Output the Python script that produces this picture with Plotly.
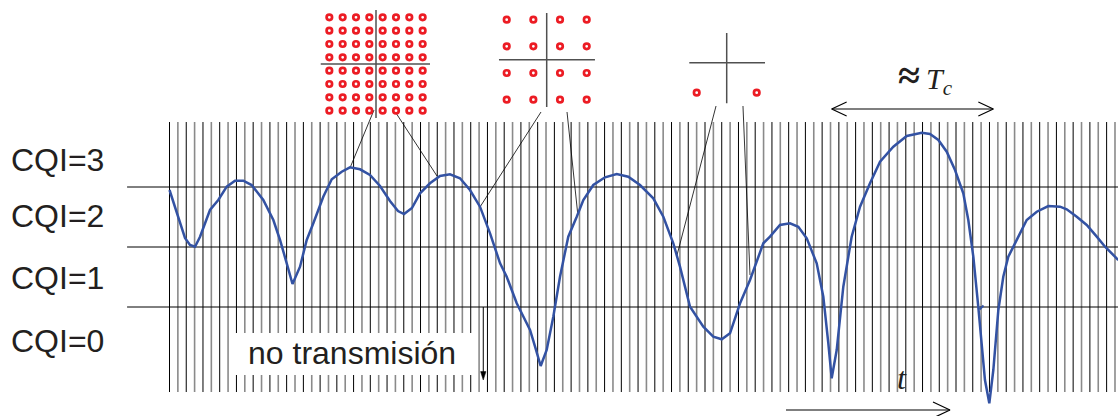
import plotly.graph_objects as go

# ---------------- data ----------------
# time axis: slot index (one vertical grid line per slot)
n_slots = 114
# channel-quality level axis: CQI thresholds at 1, 2, 3
cqi_thresholds = [1, 2, 3]
cqi_labels = ["CQI=0", "CQI=1", "CQI=2", "CQI=3"]
cqi_label_level = [0.43, 1.49, 2.52, 3.45]

curve_t = [0, 0.86, 1.85, 2.45, 3.05, 3.65, 4.84, 5.83, 6.84, 7.83,
           8.82, 9.82, 11.21, 12.41, 13.21, 14.01, 14.70, 15.60, 16.40, 17.19,
           18.38, 19.39, 20.58, 21.57, 22.77, 23.96, 25.16, 26.35, 27.31, 28.03,
           28.98, 29.94, 31.13, 32.33, 33.52, 34.72, 35.91, 37.11, 38.31, 39.51,
           40.30, 41.50, 42.69, 43.09, 43.69, 44.36, 45.08, 45.87, 46.67, 47.66,
           48.67, 49.46, 50.65, 52.05, 53.45, 54.83, 56.23, 57.82, 59.02, 60.21,
           61.01, 62.21, 63.80, 64.99, 66.00, 66.99, 68.19, 69.38, 70.97, 71.77,
           72.96, 74.16, 75.15, 76.16, 77.35, 78.14, 78.74, 79.14, 79.74, 80.53,
           81.53, 82.53, 83.72, 84.92, 86.51, 88.11, 89.90, 90.89, 91.89, 92.89,
           93.88, 94.87, 95.47, 96.07, 96.66, 97.07, 97.46, 97.98, 98.46, 99.06,
           99.65, 100.25, 101.26, 102.45, 103.65, 105.03, 106.43, 107.23, 108.43, 109.62,
           110.82, 111.81, 113.4]
curve_level = [2.95, 2.567, 2.15, 2.033, 2.005, 2.17, 2.617, 2.783, 3.005, 3.105,
               3.105, 3.033, 2.783, 2.45, 2.117, 1.728, 1.383, 1.672, 2.117, 2.395,
               2.838, 3.128, 3.255, 3.328, 3.295, 3.2, 3.017, 2.767, 2.6, 2.55,
               2.65, 2.895, 3.062, 3.183, 3.212, 3.145, 2.95, 2.672, 2.228, 1.728,
               1.505, 1.062, 0.728, 0.617, 0.338, 0.017, 0.283, 0.838, 1.505, 2.172,
               2.505, 2.783, 3.033, 3.162, 3.217, 3.172, 3.033, 2.812, 2.505, 2.062,
               1.672, 1.005, 0.672, 0.505, 0.462, 0.562, 1.062, 1.45, 2.062, 2.172,
               2.367, 2.395, 2.338, 2.145, 1.728, 1.172, 0.395, -0.188, 0.283, 1.338,
               2.172, 2.672, 3.062, 3.422, 3.672, 3.85, 3.905, 3.883, 3.783, 3.588,
               3.283, 2.895, 2.45, 1.838, 1.005, 0.338, -0.217, -0.605, -0.05, 0.95,
               1.505, 1.838, 2.117, 2.45, 2.588, 2.683, 2.672, 2.628, 2.505, 2.367,
               2.172, 2.005, 1.783]
# small stray stroke on the curve
stray_t = [96.81, 97.29]
stray_level = [0.958, 1.025]

# constellations (I/Q amplitudes)
qam64_levels = [-7, -5, -3, -1, 1, 3, 5, 7]
qam16_levels = [-3, -1, 1, 3]
qam4_i = [-1, 1]
qam4_q = [-1, -1]

# leader lines: (t_top, level_top, t_curve, level_curve)
leaders = [(24.44, 4.283, 21.57, 3.317),
           (27.07, 4.233, 31.97, 3.183),
           (44.40, 4.25, 37.11, 2.667),
           (47.51, 4.25, 48.78, 2.567),
           (65.32, 4.35, 60.66, 1.867),
           (68.54, 4.35, 69.38, 1.533)]

# ---------------- layout helpers ----------------
W, H = 1118, 416
X_RANGE = [-20.258, 113.36]
Y_RANGE = [-0.8167, 6.1167]
GRID_TOP, GRID_BOT = 4.083, -0.417
HLINE_START = -5.07
TXT = "#231f20"
BLUE = "#3352a3"
RED = "#ec1c24"
SANS = "Liberation Sans, Arial, sans-serif"
SERIF = "Liberation Serif, Times New Roman, serif"

fig = go.Figure()

# vertical slot lines (alternating dark / grey as in the printed figure)
for parity, colr, wd in [(0, "black", 1.0), (1, "#8a8a8a", 1.6)]:
    gx, gy = [], []
    for i in range(parity, n_slots, 2):
        gx += [i, i, None]
        gy += [GRID_BOT, GRID_TOP, None]
    fig.add_trace(go.Scatter(x=gx, y=gy, mode="lines", line=dict(color=colr, width=wd),
                             hoverinfo="skip"))

# CQI threshold lines
hx, hy = [], []
for lv in cqi_thresholds:
    hx += [HLINE_START, X_RANGE[1], None]
    hy += [lv, lv, None]
fig.add_trace(go.Scatter(x=hx, y=hy, mode="lines", line=dict(color="black", width=1),
                         hoverinfo="skip"))

# leader lines
lx, ly = [], []
for t0, l0, t1, l1 in leaders:
    lx += [t0, t1, None]
    ly += [l0, l1, None]
fig.add_trace(go.Scatter(x=lx, y=ly, mode="lines", line=dict(color="black", width=0.8),
                         hoverinfo="skip"))

# channel quality curve
fig.add_trace(go.Scatter(x=curve_t, y=curve_level, mode="lines",
                         line=dict(color=BLUE, width=2.5)))
fig.add_trace(go.Scatter(x=stray_t, y=stray_level, mode="lines",
                         line=dict(color=BLUE, width=2)))

# Tc double arrow (open chevrons)
tc0, tc1, tcl = 79.14, 98.46, 4.3
hl, hh = 1.79, 0.117
fig.add_trace(go.Scatter(
    x=[tc0, tc1, None, tc0 + hl, tc0, tc0 + hl, None, tc1 - hl, tc1, tc1 - hl],
    y=[tcl, tcl, None, tcl + hh, tcl, tcl - hh, None, tcl + hh, tcl, tcl - hh],
    mode="lines", line=dict(color="black", width=1.2), hoverinfo="skip"))

# time arrow
ta0, ta1, tal = 73.68, 93.28, -0.717
hl2, hh2 = 2.03, 0.133
fig.add_trace(go.Scatter(
    x=[ta0, ta1, None, ta1 - hl2, ta1, ta1 - hl2],
    y=[tal, tal, None, tal + hh2, tal, tal - hh2],
    mode="lines", line=dict(color="black", width=1.2), hoverinfo="skip"))

# "no transmisión" arrow
nt, n0, n1 = 37.5, 1.0, -0.217
fig.add_trace(go.Scatter(x=[nt, nt], y=[n0, n1 + 0.1], mode="lines",
                         line=dict(color="black", width=1), hoverinfo="skip"))
fig.add_trace(go.Scatter(x=[nt - 0.32, nt + 0.32, nt, nt - 0.32],
                         y=[n1 + 0.14, n1 + 0.14, n1, n1 + 0.14],
                         mode="lines", fill="toself", fillcolor="black",
                         line=dict(color="black", width=0.5), hoverinfo="skip"))

# ---- constellations on their own small axes ----
def add_const(xs, ys, ax_id, vline, hline):
    xa, ya = f"x{ax_id}", f"y{ax_id}"
    fig.add_trace(go.Scatter(x=[0, 0, None, hline[0], hline[1]],
                             y=[vline[0], vline[1], None, 0, 0],
                             xaxis=xa, yaxis=ya, mode="lines",
                             line=dict(color="#505050", width=1.5), hoverinfo="skip"))
    fig.add_trace(go.Scatter(x=xs, y=ys, xaxis=xa, yaxis=ya, mode="markers",
                             marker=dict(symbol="circle-open", size=5.5, color=RED,
                                         line=dict(width=2.7, color=RED))))

q64x = [i for q in qam64_levels for i in qam64_levels]
q64y = [q for q in qam64_levels for i in qam64_levels]
add_const(q64x, q64y, 2, (-8.1, 8.1), (-8.29, 8.1))
q16x = [i for q in qam16_levels for i in qam16_levels]
q16y = [q for q in qam16_levels for i in qam16_levels]
add_const(q16x, q16y, 3, (-3.55, 3.5), (-3.58, 3.62))
add_const(qam4_i, qam4_q, 4, (-1.353, 0.99), (-1.247, 1.277))

hidden = dict(visible=False, showgrid=False, zeroline=False, fixedrange=True)

# white box behind "no transmisión"
shapes = [dict(type="rect", xref="x", yref="y", x0=7.35, x1=36.63, y0=-0.133, y1=0.567,
               fillcolor="white", line=dict(width=0), layer="above")]

ann = []
for lab, lv in zip(cqi_labels, cqi_label_level):
    ann.append(dict(x=-19.2, y=lv, xref="x", yref="y", text=lab, showarrow=False,
                    xanchor="left", yanchor="middle",
                    font=dict(family=SANS, size=32, color=TXT)))
ann.append(dict(x=21.85, y=0.233, xref="x", yref="y", text="no transmisión", showarrow=False,
                xanchor="center", yanchor="middle",
                font=dict(family=SANS, size=32, color=TXT)))
ann.append(dict(x=90.39, y=4.85, xref="x", yref="y",
                text="<b><span style='font-size:40px'>≈</span></b>\u2009<i>T</i><sub><i>c</i></sub>",
                showarrow=False, xanchor="center", yanchor="middle",
                font=dict(family=SERIF, size=30, color=TXT)))
ann.append(dict(x=87.55, y=-0.175, xref="x", yref="y", text="<i>t</i>", showarrow=False,
                xanchor="center", yanchor="middle",
                font=dict(family=SERIF, size=32, color=TXT)))

fig.update_layout(
    width=W, height=H, margin=dict(l=0, r=0, t=0, b=0),
    paper_bgcolor="white", plot_bgcolor="rgba(0,0,0,0)", showlegend=False,
    xaxis=dict(range=X_RANGE, domain=[0, 1], **hidden),
    yaxis=dict(range=Y_RANGE, domain=[0, 1], **hidden),
    xaxis2=dict(range=[-9, 9], domain=[0.28265, 0.38998], anchor="y2", **hidden),
    yaxis2=dict(range=[-9, 9], domain=[0.70192, 0.99038], anchor="x2", **hidden),
    xaxis3=dict(range=[-4.5, 4.5], domain=[0.43533, 0.54266], anchor="y3", **hidden),
    yaxis3=dict(range=[-4.4, 4.4], domain=[0.71563, 0.99760], anchor="x3", **hidden),
    xaxis4=dict(range=[-1.5, 1.5], domain=[0.60975, 0.69025], anchor="y4", **hidden),
    yaxis4=dict(range=[-1.5, 1.5], domain=[0.74111, 0.95745], anchor="x4", **hidden),
    shapes=shapes, annotations=ann,
)

fig.write_html("out.html", config={"displayModeBar": False},
               post_script="document.body.style.margin='0';document.body.style.padding='0';")
